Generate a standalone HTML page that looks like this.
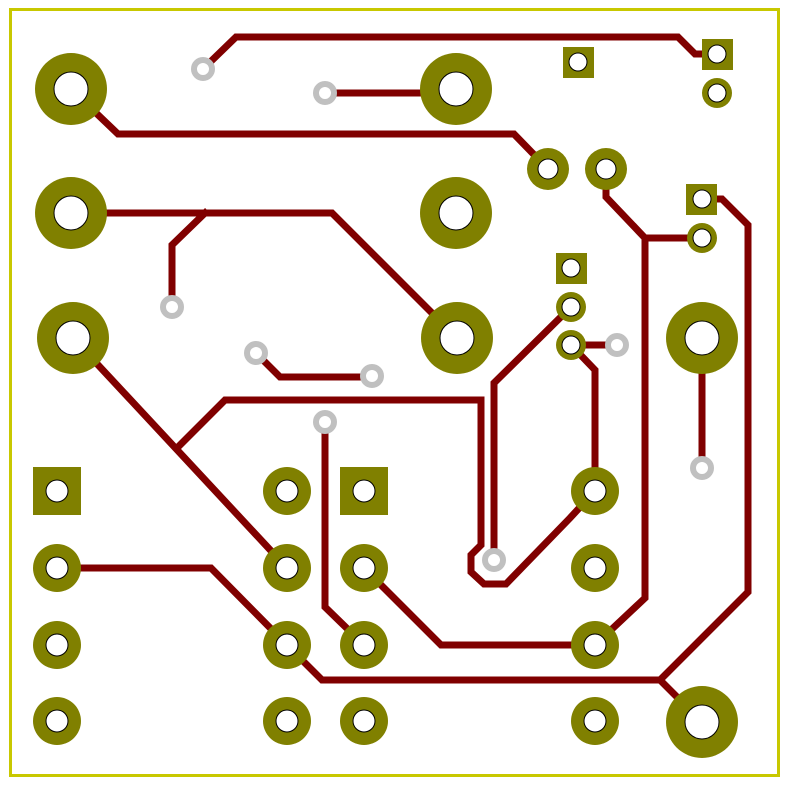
<!DOCTYPE html>
<html><head><meta charset="utf-8"><style>html,body{margin:0;padding:0;background:#fff}svg{display:block}</style></head>
<body>
<svg width="789" height="787" viewBox="0 0 789 787" xmlns="http://www.w3.org/2000/svg">
<rect x="0" y="0" width="789" height="787" fill="#fff"/>
<rect x="10.5" y="9.5" width="768" height="766" fill="none" stroke="#c8c800" stroke-width="3"/>
<g fill="none" stroke="#800000" stroke-width="7" stroke-linejoin="miter" stroke-linecap="square">
<polyline points="203,69 236,37 678,37 695,54 717,54"/>
<polyline points="325,93 456,93"/>
<polyline points="71,89 118,134 514,134 548,169"/>
<polyline points="71,213 332,213 457,338"/>
<polyline points="205,213 172,245 172,307"/>
<polyline points="256,353 280,377 372,377"/>
<polyline points="73,338 287,568"/>
<polyline points="180,445 225,400 481,400 481,545 471,555 471,572 484,584 506,584 570,518 595,491"/>
<polyline points="494,560 494,383 571,307"/>
<polyline points="571,345 617,345"/>
<polyline points="571,345 595,370 595,491"/>
<polyline points="606,169 606,197 645,238 702,238"/>
<polyline points="645,238 645,598 595,645"/>
<polyline points="702,199 722,199 748,225 748,592 660,680 702,722"/>
<polyline points="57,568 211,568 287,645 322,680 660,680"/>
<polyline points="325,422 325,607 364,645"/>
<polyline points="364,568 441,645 595,645"/>
<polyline points="702,338 702,468"/>
</g>
<g fill="#808000">
<circle cx="71" cy="89" r="36"/><circle cx="71" cy="213" r="36"/><circle cx="73" cy="338" r="36"/>
<circle cx="456" cy="89" r="36"/><circle cx="456" cy="213" r="36"/><circle cx="457" cy="338" r="36"/>
<circle cx="702" cy="338" r="36"/><circle cx="702" cy="722" r="36"/>
<rect x="33" y="467" width="48" height="48"/>
<circle cx="57" cy="568" r="24"/><circle cx="57" cy="645" r="24"/><circle cx="57" cy="721" r="24"/>
<circle cx="287" cy="491" r="24"/><circle cx="287" cy="568" r="24"/><circle cx="287" cy="645" r="24"/><circle cx="287" cy="721" r="24"/>
<rect x="340" y="467" width="48" height="48"/>
<circle cx="364" cy="568" r="24"/><circle cx="364" cy="645" r="24"/><circle cx="364" cy="721" r="24"/>
<circle cx="595" cy="491" r="24"/><circle cx="595" cy="568" r="24"/><circle cx="595" cy="645" r="24"/><circle cx="595" cy="721" r="24"/>
<circle cx="548" cy="169" r="21"/><circle cx="606" cy="169" r="21"/>
<rect x="563" y="47" width="31" height="31"/>
<rect x="702" y="39" width="31" height="31"/><circle cx="717" cy="93" r="15"/>
<rect x="686" y="184" width="31" height="31"/><circle cx="702" cy="238" r="15"/>
<rect x="556" y="253" width="31" height="31"/><circle cx="571" cy="307" r="15"/><circle cx="571" cy="345" r="15"/>
</g>
<g fill="#fff" stroke="#000" stroke-width="1">
<circle cx="71" cy="89" r="17"/><circle cx="71" cy="213" r="17"/><circle cx="73" cy="338" r="17"/>
<circle cx="456" cy="89" r="17"/><circle cx="456" cy="213" r="17"/><circle cx="457" cy="338" r="17"/>
<circle cx="702" cy="338" r="17"/><circle cx="702" cy="722" r="17"/>
<circle cx="57" cy="491" r="11"/><circle cx="57" cy="568" r="11"/><circle cx="57" cy="645" r="11"/><circle cx="57" cy="721" r="11"/>
<circle cx="287" cy="491" r="11"/><circle cx="287" cy="568" r="11"/><circle cx="287" cy="645" r="11"/><circle cx="287" cy="721" r="11"/>
<circle cx="364" cy="491" r="11"/><circle cx="364" cy="568" r="11"/><circle cx="364" cy="645" r="11"/><circle cx="364" cy="721" r="11"/>
<circle cx="595" cy="491" r="11"/><circle cx="595" cy="568" r="11"/><circle cx="595" cy="645" r="11"/><circle cx="595" cy="721" r="11"/>
<circle cx="548" cy="169" r="10"/><circle cx="606" cy="169" r="10"/>
<circle cx="578" cy="62" r="9"/><circle cx="717" cy="54" r="9"/><circle cx="717" cy="93" r="9"/>
<circle cx="702" cy="199" r="9"/><circle cx="702" cy="238" r="9"/>
<circle cx="571" cy="268" r="9"/><circle cx="571" cy="307" r="9"/><circle cx="571" cy="345" r="9"/>
</g>
<g fill="#fff" stroke="#c0c0c0" stroke-width="6">
<circle cx="203" cy="69" r="9"/><circle cx="325" cy="93" r="9"/><circle cx="172" cy="307" r="9"/>
<circle cx="256" cy="353" r="9"/><circle cx="372" cy="376" r="9"/><circle cx="325" cy="422" r="9"/>
<circle cx="494" cy="560" r="9"/><circle cx="617" cy="345" r="9"/><circle cx="702" cy="468" r="9"/>
</g>
</svg>
</body></html>
